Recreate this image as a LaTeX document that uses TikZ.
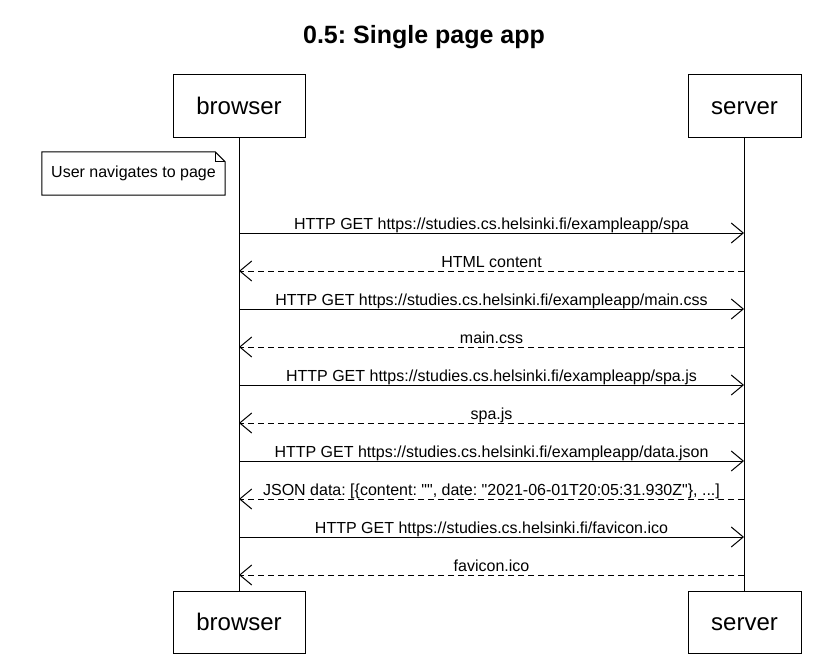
\documentclass[tikz,border=0pt]{standalone}
\usepackage{fontspec}
\setmainfont{Liberation Sans}[Ligatures=TeXOff]
\usetikzlibrary{arrows.meta,calc}
\frenchspacing

\begin{document}
\begin{tikzpicture}[x=1bp, y=-1bp,
    actor/.style={draw, line width=1bp, minimum height=62bp, inner sep=0pt, text height=17bp, text depth=0bp,
                  font=\fontsize{24bp}{28bp}\selectfont},
    lbl/.style={midway, anchor=base, yshift=4bp, inner sep=0pt, font=\fontsize{16bp}{19bp}\selectfont},
    req/.style={-{Straight Barb[length=12bp,width=20bp]}, line width=1bp},
    resp/.style={req, dash pattern=on 6bp off 4bp}
]
\useasboundingbox (0,0) rectangle (838,657);
\node[anchor=base, font=\bfseries\fontsize{25bp}{30bp}\selectfont] (title) at (424,44) {0.5: Single page app};

% participants, top and bottom
\node[actor, minimum width=132bp] (browser)  at (239,106)   {browser};
\node[actor, minimum width=113bp] (server)   at (744.5,106) {server};
\node[actor, minimum width=132bp] (browserb) at (239,622)   {browser};
\node[actor, minimum width=113bp] (serverb)  at (744.5,622) {server};
\draw[line width=1bp] (browser) -- (browserb);
\draw[line width=1bp] (server) -- (serverb);

% note
\node[inner sep=0pt, minimum width=183bp, minimum height=43bp, font=\fontsize{16bp}{19bp}\selectfont]
    (note) at (133.5,173.5) {User navigates to page};
\draw[line width=1bp, fill=white] (note.north west) -- ($(note.north east)+(-10,0)$) -- ($(note.north east)+(0,10)$)
    -- (note.south east) -- (note.south west) -- cycle;
\draw[line width=1bp] ($(note.north east)+(-10,0)$) |- ($(note.north east)+(0,10)$);
\node[inner sep=0pt, font=\fontsize{16bp}{19bp}\selectfont] at (note) {User navigates to page};

% message points on the lifelines
\foreach \i in {1,...,10} {
  \coordinate (b\i) at (239,{195+38*\i});
  \coordinate (s\i) at (744,{195+38*\i});
}

\draw[req]  (b1) -- node[lbl] {HTTP GET https://studies.cs.helsinki.fi/exampleapp/spa} (s1);
\draw[resp] (s2) -- node[lbl] {HTML content} (b2);
\draw[req]  (b3) -- node[lbl] {HTTP GET https://studies.cs.helsinki.fi/exampleapp/main.css} (s3);
\draw[resp] (s4) -- node[lbl] {main.css} (b4);
\draw[req]  (b5) -- node[lbl] {HTTP GET https://studies.cs.helsinki.fi/exampleapp/spa.js} (s5);
\draw[resp] (s6) -- node[lbl] {spa.js} (b6);
\draw[req]  (b7) -- node[lbl] {HTTP GET https://studies.cs.helsinki.fi/exampleapp/data.json} (s7);
\draw[resp] (s8) -- node[lbl] {JSON data: [\{content: "", date: "2021-06-01T20:05:31.930Z"\}, ...]} (b8);
\draw[req]  (b9) -- node[lbl] {HTTP GET https://studies.cs.helsinki.fi/favicon.ico} (s9);
\draw[resp] (s10) -- node[lbl] {favicon.ico} (b10);
\end{tikzpicture}
\end{document}
